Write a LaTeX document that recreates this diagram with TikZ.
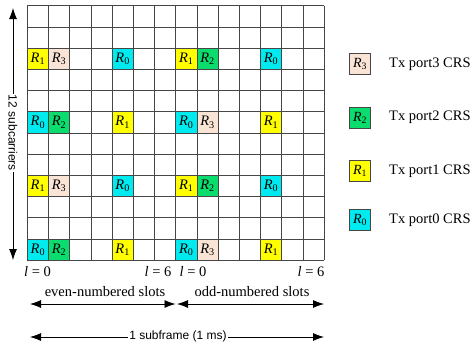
\documentclass[tikz,border=0pt]{standalone}
\usepackage{fontspec}
\setmainfont{Liberation Serif}
\setsansfont{Liberation Sans}
\usetikzlibrary{arrows.meta}
\definecolor{cR0}{RGB}{0,235,240}
\definecolor{cR1}{RGB}{255,255,0}
\definecolor{cR2}{RGB}{10,220,110}
\definecolor{cR3}{RGB}{250,228,214}
\definecolor{gridc}{RGB}{70,70,70}
\begin{document}
\begin{tikzpicture}[x=1pt,y=-1pt,
  lab/.style={font=\fontsize{14.5}{16}\selectfont, inner sep=0pt},
  sanslab/.style={font=\sffamily\fontsize{12}{14}\selectfont, fill=white, inner sep=1pt},
  dim/.style={line width=0.8pt, {Latex[length=11pt,width=8pt]}-{Latex[length=11pt,width=8pt]}},
  legbox/.style={draw=gridc, line width=0.8pt, minimum width=21pt, minimum height=21pt, inner sep=0pt, font=\fontsize{14}{16}\selectfont}]
\useasboundingbox (0,0) rectangle (472,346);
% grid
\begin{scope}[shift={(27.3,5.7)}, x=21.2pt, y=-21.2pt]
  \foreach \r in {2,8}{
    \foreach \c/\k/\col in {0/1/cR1,1/3/cR3,4/0/cR0,7/1/cR1,8/2/cR2,11/0/cR0}{
      \fill[\col] (\c,\r) rectangle (\c+1,\r+1);
      \node[lab] (c-\c-\r) at (\c+0.5,\r+0.5) {\textit{R}\textsubscript{\k}};
    }
  }
  \foreach \r in {5,11}{
    \foreach \c/\k/\col in {0/0/cR0,1/2/cR2,4/1/cR1,7/0/cR0,8/3/cR3,11/1/cR1}{
      \fill[\col] (\c,\r) rectangle (\c+1,\r+1);
      \node[lab] (c-\c-\r) at (\c+0.5,\r+0.5) {\textit{R}\textsubscript{\k}};
    }
  }
  \foreach \i in {0,...,14} \draw[gridc, line width=0.8pt] (\i,0) -- (\i,12);
  \foreach \j in {0,...,12} \draw[gridc, line width=0.8pt] (0,\j) -- (14,\j);
\end{scope}
% vertical arrow
\coordinate (vt) at (13,8);
\coordinate (vb) at (13,260);
\draw[dim] (vt) -- (vb);
\node[sanslab, rotate=-90] (sub) at (13,133) {12 subcarriers};
% symbol indices
\node[lab] (l0a) at (37.5,272) {\textit{l} = 0};
\node[lab] (l6a) at (158,272) {\textit{l} = 6};
\node[lab] (l0b) at (193,272) {\textit{l} = 0};
\node[lab] (l6b) at (311,272) {\textit{l} = 6};
% slots
\node[lab] (even) at (105,292) {even-numbered slots};
\node[lab] (odd) at (252,292) {odd-numbered slots};
\coordinate (e1) at (30,304);
\coordinate (e2) at (175.5,304);
\coordinate (o1) at (177,304);
\coordinate (o2) at (324,304);
\draw[dim] (e1) -- (e2);
\draw[dim] (o1) -- (o2);
% subframe
\coordinate (s1) at (30,337);
\coordinate (s2) at (324,337);
\draw[dim] (s1) -- (s2);
\node[sanslab] (sf) at (178,336) {1 subframe (1 ms)};
% legend
\node[legbox, fill=cR3] (k3) at (360,64) {\textit{R}\textsubscript{3}};
\node[legbox, fill=cR2] (k2) at (360,117.5) {\textit{R}\textsubscript{2}};
\node[legbox, fill=cR1] (k1) at (360,171) {\textit{R}\textsubscript{1}};
\node[legbox, fill=cR0] (k0) at (360,220) {\textit{R}\textsubscript{0}};
\node[lab, anchor=west] (t3) at (389,64) {Tx port3 CRS};
\node[lab, anchor=west] (t2) at (389,117.5) {Tx port2 CRS};
\node[lab, anchor=west] (t1) at (389,171) {Tx port1 CRS};
\node[lab, anchor=west] (t0) at (389,220) {Tx port0 CRS};
\end{tikzpicture}
\end{document}
